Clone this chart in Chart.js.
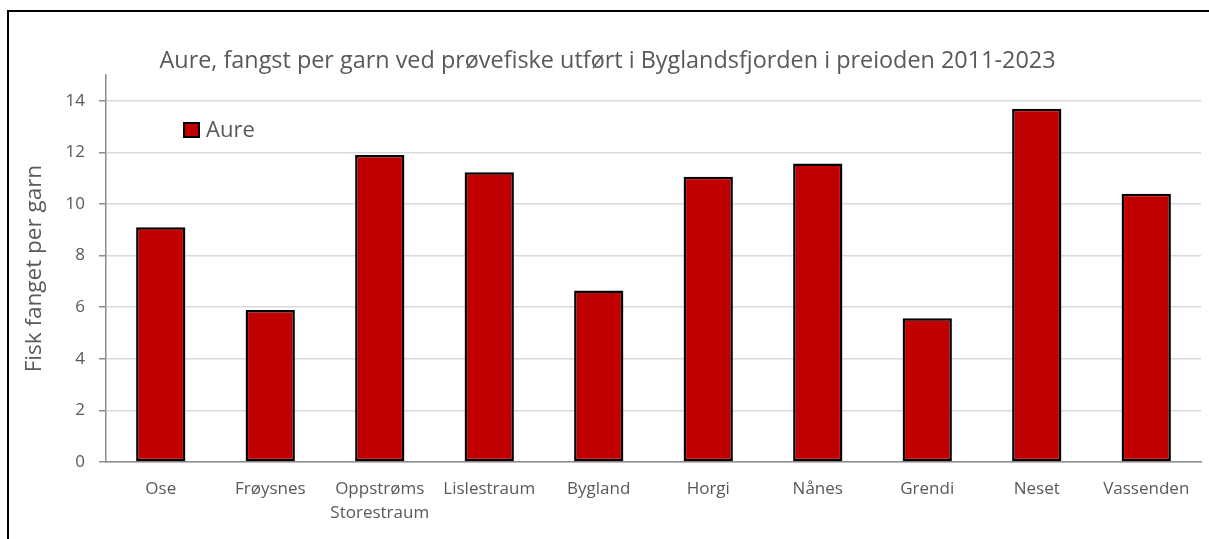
<!DOCTYPE html>
<html>
<head>
<meta charset="utf-8">
<script src="https://cdn.jsdelivr.net/npm/chart.js@4.4.1/dist/chart.umd.min.js"></script>
<style>
  html, body { margin: 0; padding: 0; background: #fff; overflow: hidden; }
  #wrap { position: relative; width: 1209px; height: 539px; }
  #frame { position: absolute; left: 7px; top: 10px; width: 1300px; height: 700px; border: 2px solid #000; pointer-events: none; box-sizing: border-box; }
  canvas { position: absolute; left: 0; top: 0; }
</style>
</head>
<body>
<div id="wrap">
  <canvas id="c" width="1209" height="539"></canvas>
  <div id="frame"></div>
</div>
<script>
const categories = ["Ose", "Frøysnes", ["Oppstrøms", "Storestraum"], "Lislestraum", "Bygland", "Horgi", "Nånes", "Grendi", "Neset", "Vassenden"];
const aureValues = [9.10, 5.89, 11.90, 11.23, 6.65, 11.06, 11.57, 5.57, 13.69, 10.40];
const seriesName = "Aure";
const chartTitle = "Aure, fangst per garn ved prøvefiske utført i Byglandsfjorden i preioden 2011-2023";
const yAxisTitle = "Fisk fanget per garn";
const yMax = 15;
const yStep = 2;

const FONT = "'Open Sans', sans-serif";
const TEXT = "#595959";

const legendPlugin = {
  id: 'insideLegend',
  afterDraw(chart) {
    const ctx = chart.ctx;
    const ds = chart.data.datasets[0];
    ctx.save();
    ctx.fillStyle = ds.backgroundColor;
    ctx.fillRect(184, 123, 15, 14);
    ctx.lineWidth = 2;
    ctx.strokeStyle = '#000';
    ctx.strokeRect(184, 123, 15, 14);
    ctx.fillStyle = TEXT;
    ctx.font = "22px " + FONT;
    ctx.textBaseline = 'middle';
    ctx.textAlign = 'left';
    ctx.fillText(ds.label, 206, 131);
    ctx.restore();
  }
};

new Chart(document.getElementById('c'), {
  type: 'bar',
  data: {
    labels: categories,
    datasets: [{
      label: seriesName,
      data: aureValues,
      backgroundColor: '#C00000',
      borderColor: '#000000',
      borderWidth: 2.5,
      borderSkipped: false,
      barPercentage: 0.45,
      categoryPercentage: 1.0
    }]
  },
  options: {
    responsive: false,
    animation: false,
    layout: { padding: { left: 14, right: 8, top: 0, bottom: 0 } },
    plugins: {
      legend: { display: false },
      tooltip: { enabled: false },
      title: {
        display: true,
        text: chartTitle,
        color: TEXT,
        font: { family: FONT, size: 23.4, weight: 'normal', lineHeight: 1.2 },
        padding: { top: 47, bottom: 0 }
      }
    },
    scales: {
      x: {
        afterFit(scale) { scale.height = 77; },
        grid: { display: false, drawTicks: false },
        border: { display: true, color: '#8c8c8c', width: 1.5 },
        ticks: {
          color: TEXT,
          padding: 15,
          maxRotation: 0,
          autoSkip: false,
          font: { family: FONT, size: 17, lineHeight: 1.4 }
        }
      },
      y: {
        min: 0,
        max: yMax,
        afterFit(scale) { scale.width = 92; },
        afterBuildTicks(scale) { scale.ticks = scale.ticks.filter(t => t.value % yStep === 0); },
        grid: { color: '#d9d9d9', lineWidth: 1.5, drawTicks: true, tickLength: 7, tickColor: '#8c8c8c' },
        border: { display: true, color: '#8c8c8c', width: 1.5 },
        ticks: {
          stepSize: yStep,
          color: TEXT,
          padding: 14,
          font: { family: FONT, size: 17 }
        },
        title: {
          display: true,
          text: yAxisTitle,
          color: TEXT,
          font: { family: FONT, size: 22.5, lineHeight: 1.2 },
          padding: { top: 7.5, bottom: 0 }
        }
      }
    }
  },
  plugins: [legendPlugin]
});
</script>
</body>
</html>
